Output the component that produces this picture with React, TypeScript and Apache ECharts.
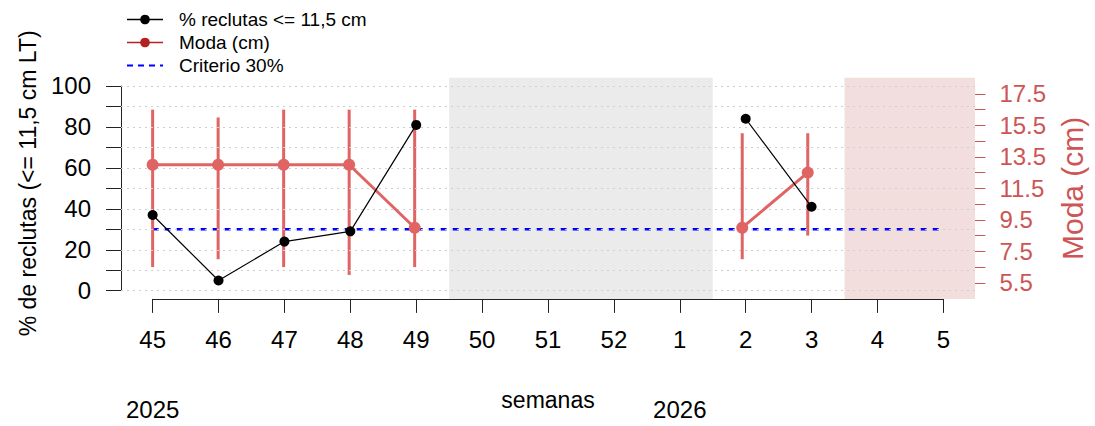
import React, { useEffect, useRef } from "react";
import * as echarts from "echarts";

// ---------- data ----------
const WEEKS = ["45", "46", "47", "48", "49", "50", "51", "52", "1", "2", "3", "4", "5"];
const RECLUTAS = [37, 5, 24, 29, 81, null, null, null, null, 84, 41, null, null];
const MODA = [13, 13, 13, 13, 9, null, null, null, null, 9, 12.5, null, null];
const MODA_MIN = [6.5, 7, 6.5, 6, 6.5, null, null, null, null, 7, 8.5, null, null];
const MODA_MAX = [16.5, 16, 16.5, 16.5, 16.5, null, null, null, null, 15, 15, null, null];
const CRITERIO = 30;
const GRAY_WEEKS = ["50", "51", "52", "1"];
const PINK_WEEKS = ["4", "5"];
const YEARS = ["2025", "2026"];
const YEAR_START_WEEKS = ["45", "1"];
const LEFT_GRID = [0, 10, 20, 30, 40, 50, 60, 70, 80, 90, 100];
const LEFT_LABELS = [0, 20, 40, 60, 80, 100];
const RIGHT_TICKS = [5.5, 6.5, 7.5, 8.5, 9.5, 10.5, 11.5, 12.5, 13.5, 14.5, 15.5, 16.5, 17.5];
const RIGHT_LABELS = [5.5, 7.5, 9.5, 11.5, 13.5, 15.5, 17.5];

const NAME_RECL = "% reclutas <= 11,5 cm";
const NAME_MODA = "Moda (cm)";
const NAME_CRIT = "Criterio 30%";

// ---------- layout ----------
const W = 1095;
const H = 426;
const L = 121;
const R = 975;
const T = 77.8;
const B = 298.9;
const NW = WEEKS.length - 1;
const XPAD = NW * 0.04;
const XMIN = -XPAD;
const XMAX = NW + XPAD;
const YMIN = -4;
const YMAX = 104;
const RMIN = 5 - 13 * 0.04;
const RMAX = 18 + 13 * 0.04;

const xpx = (v: number) => L + ((v - XMIN) / (XMAX - XMIN)) * (R - L);
const ypx = (v: number) => B - ((v - YMIN) / (YMAX - YMIN)) * (B - T);
const rpx = (v: number) => B - ((v - RMIN) / (RMAX - RMIN)) * (B - T);

const FONT = "'Liberation Sans', Arial, Helvetica, sans-serif";
const RED = "#e06464";
const RED_TEXT = "#cd5555";
const RED_LEGEND = "#b22222";
const AXIS = "#222";

function buildOption() {
  const g1 = { left: xpx(0), right: W - xpx(NW), top: ypx(100), bottom: H - ypx(0) };
  const g2 = { left: xpx(0), right: W - xpx(NW), top: rpx(17.5), bottom: H - rpx(5.5) };
  const idx = (w: string) => WEEKS.indexOf(w);
  const band = (weeks: string[]) => {
    const a = Math.max(XMIN, Math.min(...weeks.map(idx)) - 0.5);
    const b = Math.min(XMAX, Math.max(...weeks.map(idx)) + 0.5);
    return [{ xAxis: a, yAxis: YMIN }, { xAxis: b, yAxis: YMAX }];
  };
  const grayBand = band(GRAY_WEEKS);
  const pinkBand = band(PINK_WEEKS);

  const errData: number[][] = [];
  MODA_MIN.forEach((lo, i) => {
    const hi = MODA_MAX[i];
    if (lo != null && hi != null) errData.push([i, lo, hi]);
  });

  return {
    animation: false,
    textStyle: { fontFamily: FONT },
    legend: {
      orient: "vertical",
      left: 126,
      top: 10,
      padding: 0,
      itemWidth: 36,
      itemHeight: 12,
      itemGap: 4,
      textStyle: { fontSize: 19, color: "#000", fontFamily: FONT, padding: [0, 0, 0, 11] },
      data: [
        { name: NAME_RECL, itemStyle: { color: "#000" }, lineStyle: { color: "#000", width: 1.5 } },
        { name: NAME_MODA, itemStyle: { color: RED_LEGEND }, lineStyle: { color: RED_LEGEND, width: 1.5 } },
        { name: NAME_CRIT, itemStyle: { opacity: 0 }, lineStyle: { color: "#0000ff", width: 2, type: [6, 5] } },
      ],
    },
    grid: [
      { left: L, right: W - R, top: T, bottom: H - B },
      g1,
      g2,
    ],
    xAxis: [
      { gridIndex: 0, type: "value", min: XMIN, max: XMAX, show: false },
      {
        gridIndex: 1,
        type: "value",
        min: 0,
        max: NW,
        interval: 1,
        position: "bottom",
        offset: B - ypx(0),
        axisLine: { show: true, onZero: false, lineStyle: { color: AXIS, width: 1 } },
        axisTick: { show: true, length: 14, lineStyle: { color: AXIS, width: 1 } },
        axisLabel: {
          fontSize: 24,
          color: "#000",
          margin: 29,
          fontFamily: FONT,
          showMinLabel: true,
          showMaxLabel: true,
          formatter: (v: number) => WEEKS[Math.round(v)] ?? "",
        },
        splitLine: { show: false },
        name: "semanas",
        nameLocation: "middle",
        nameGap: 90,
        nameTextStyle: { fontSize: 23, color: "#000", fontFamily: FONT },
      },
      {
        gridIndex: 1,
        type: "value",
        min: 0,
        max: NW,
        position: "bottom",
        offset: B - ypx(0),
        axisLine: { show: false },
        axisTick: { show: false },
        splitLine: { show: false },
        axisLabel: {
          fontSize: 24,
          color: "#000",
          margin: 99,
          fontFamily: FONT,
          showMinLabel: true,
          showMaxLabel: true,
          customValues: YEAR_START_WEEKS.map(idx),
          formatter: (v: number) => {
            const k = YEAR_START_WEEKS.map(idx).indexOf(Math.round(v));
            return k >= 0 ? YEARS[k] : "";
          },
        },
      },
      { gridIndex: 2, type: "value", min: 0, max: NW, show: false },
    ],
    yAxis: [
      { gridIndex: 0, type: "value", min: YMIN, max: YMAX, show: false },
      {
        gridIndex: 1,
        type: "value",
        min: 0,
        max: 100,
        interval: 10,
        position: "left",
        offset: xpx(0) - L,
        axisLine: { show: true, onZero: false, lineStyle: { color: AXIS, width: 1 } },
        axisTick: { show: true, length: 15, customValues: LEFT_GRID, lineStyle: { color: AXIS, width: 1 } },
        axisLabel: {
          fontSize: 24,
          color: "#000",
          margin: 30,
          fontFamily: FONT,
          showMinLabel: true,
          showMaxLabel: true,
          customValues: LEFT_LABELS,
        },
        splitLine: { show: false },
        name: "% de reclutas (<= 11,5 cm LT)",
        nameLocation: "middle",
        nameRotate: 90,
        nameGap: 82,
        nameTextStyle: { fontSize: 23, color: "#000", fontFamily: FONT, padding: [0, 0, 0, 10] },
      },
      {
        gridIndex: 2,
        type: "value",
        min: 5.5,
        max: 17.5,
        position: "right",
        offset: R - xpx(NW),
        axisLine: { show: true, onZero: false, lineStyle: { color: RED_TEXT, width: 1 } },
        axisTick: { show: true, length: 15, customValues: RIGHT_TICKS, lineStyle: { color: RED_TEXT, width: 1 } },
        axisLabel: {
          fontSize: 24,
          color: RED_TEXT,
          margin: 29,
          fontFamily: FONT,
          showMinLabel: true,
          showMaxLabel: true,
          customValues: RIGHT_LABELS,
          formatter: (v: number) => v.toFixed(1),
        },
        splitLine: { show: false },
        name: "Moda (cm)",
        nameLocation: "middle",
        nameRotate: 90,
        nameGap: 79,
        nameTextStyle: { fontSize: 30, color: RED_TEXT, fontFamily: FONT },
      },
    ],
    series: [
      {
        name: "__bg",
        type: "line",
        xAxisIndex: 0,
        yAxisIndex: 0,
        data: [],
        silent: true,
        z: 1,
        markArea: {
          silent: true,
          data: [
            [{ ...grayBand[0], itemStyle: { color: "#ebebeb" } }, grayBand[1]],
            [{ ...pinkBand[0], itemStyle: { color: "#f3dede" } }, pinkBand[1]],
          ],
        },
        markLine: {
          silent: true,
          symbol: ["none", "none"],
          label: { show: false },
          lineStyle: { color: "#cfcfcf", width: 1, type: [2, 4] },
          data: LEFT_GRID.map((v) => ({ yAxis: v })),
        },
      },
      {
        name: NAME_CRIT,
        type: "line",
        xAxisIndex: 1,
        yAxisIndex: 1,
        data: [
          [0, CRITERIO],
          [NW, CRITERIO],
        ],
        symbol: "none",
        clip: false,
        z: 3,
        itemStyle: { color: "#0000ff" },
        lineStyle: { color: "#0000ff", width: 2.5, type: [6, 6] },
      },
      {
        name: "__err",
        type: "custom",
        xAxisIndex: 3,
        yAxisIndex: 2,
        clip: false,
        z: 4,
        encode: { x: 0, y: [1, 2] },
        data: errData,
        renderItem: (_params: any, api: any) => {
          const x = api.value(0);
          const p1 = api.coord([x, api.value(1)]);
          const p2 = api.coord([x, api.value(2)]);
          return {
            type: "line",
            shape: { x1: p1[0], y1: p1[1], x2: p2[0], y2: p2[1] },
            style: { stroke: RED, lineWidth: 3 },
          };
        },
      },
      {
        name: NAME_MODA,
        type: "line",
        xAxisIndex: 3,
        yAxisIndex: 2,
        data: MODA.map((v, i) => [i, v]),
        connectNulls: false,
        clip: false,
        z: 5,
        symbol: "circle",
        symbolSize: 12,
        itemStyle: { color: RED },
        lineStyle: { color: RED, width: 3 },
      },
      {
        name: NAME_RECL,
        type: "line",
        xAxisIndex: 1,
        yAxisIndex: 1,
        data: RECLUTAS.map((v, i) => [i, v]),
        connectNulls: false,
        clip: false,
        z: 6,
        symbol: "circle",
        symbolSize: 10,
        itemStyle: { color: "#000" },
        lineStyle: { color: "#000", width: 1.2 },
      },
    ],
  };
}

export default function App() {
  const ref = useRef<HTMLDivElement>(null);
  useEffect(() => {
    if (!ref.current) return;
    const chart = echarts.init(ref.current, undefined, { renderer: "svg", width: W, height: H });
    chart.setOption(buildOption() as any);
    return () => chart.dispose();
  }, []);
  return (
    <div
      ref={ref}
      style={{ position: "absolute", left: 0, top: 0, width: W, height: H, background: "#fff" }}
    />
  );
}
